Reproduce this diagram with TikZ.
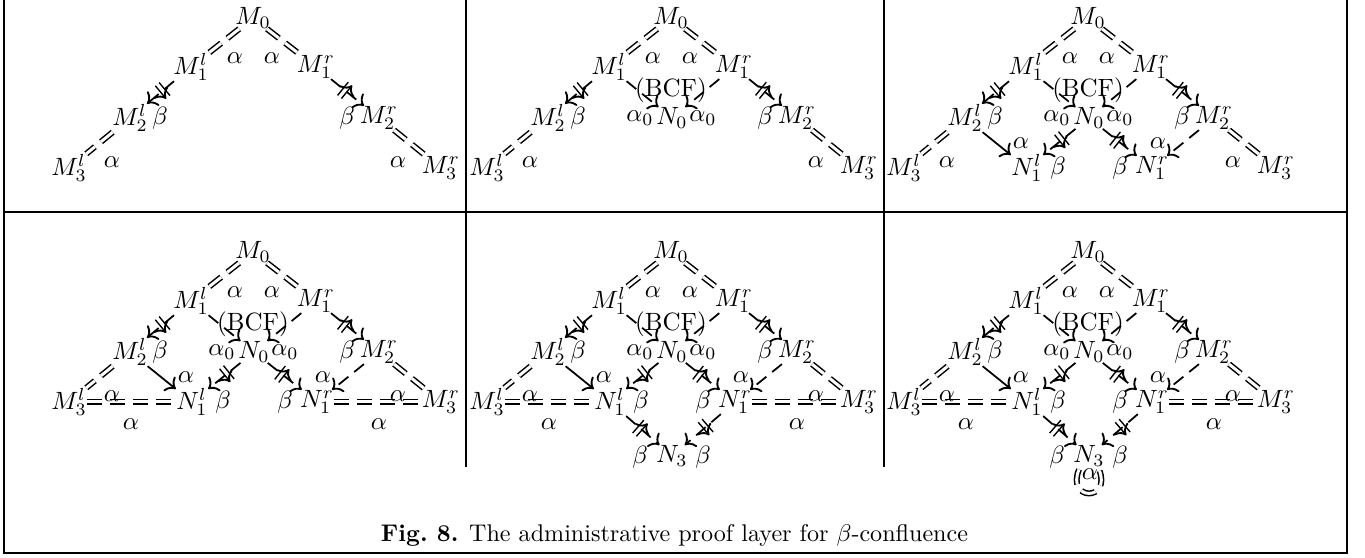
\documentclass[tikz,border=0pt]{standalone}
\usepackage{graphicx}
\usetikzlibrary{arrows.meta,decorations.markings}
\tikzset{
  obj/.style={inner sep=0pt},
  lbl/.style={inner sep=0pt},
  framerule/.style={line width=1.05pt, line join=miter},
  tablerule/.style={line width=0.9pt},
  dbl/.style={draw, line width=0.6pt, double, double distance=1.2pt,
              dash pattern=on 6pt off 3.2pt},
  tipx/.style={-{Computer Modern Rightarrow[length=3.6pt,width=7.4pt,line width=0.75pt]}},
  dar/.style={draw, line width=0.7pt, dash pattern=on 5pt off 3pt, tipx},
  sar/.style={draw, line width=0.7pt, tipx},
  bars/.style={postaction={decorate,decoration={markings,
      mark=at position 0.42 with {\draw[solid,line width=0.55pt]
        (-1pt,-3.4pt)--(-1pt,3.4pt) (1pt,-3.4pt)--(1pt,3.4pt);}}}}
}
\begin{document}
\begin{tikzpicture}[x=0.4pt,y=-0.4pt,
  every node/.append style={font=\fontsize{10}{12}\selectfont}]
\useasboundingbox (0,0) rectangle (1365,558);
% frame and table rules
\coordinate (FTL) at (4,0);
\coordinate (FBL) at (4,553);
\coordinate (FBR) at (1347,553);
\coordinate (FTR) at (1347,0);
\draw[framerule] (FTL) -- (FBL) -- (FBR) -- (FTR);
\coordinate (HL) at (4,212);
\coordinate (HR) at (1347,212);
\draw[tablerule] (HL) -- (HR);
\coordinate (V1t) at (466,0);
\coordinate (V1b) at (466,467);
\coordinate (V2t) at (884,0);
\coordinate (V2b) at (884,467);
\draw[tablerule] (V1t) -- (V1b);
\draw[tablerule] (V2t) -- (V2b);
% caption
\node[inner sep=0pt, anchor=base] (cap) at (674.5,541)
  {\resizebox{234.8pt}{!}{\textbf{Fig.\ 8.} The administrative proof layer for $\beta$-confluence}};
% panels
\foreach \p/\x/\y/\lv in {a/253/18/1,b/671/18/2,c/1088/18/3,d/253/252/4,e/671/252/5,f/1088/252/6}{
  \node[obj] (\p M0)  at (\x,\y) {$M_0$};
  \node[obj] (\p M1l) at ({\x-62},{\y+49}) {$M^l_1$};
  \node[obj] (\p M1r) at ({\x+63},{\y+49}) {$M^r_1$};
  \node[obj] (\p M2l) at ({\x-123},{\y+100}) {$M^l_2$};
  \node[obj] (\p M2r) at ({\x+126},{\y+100}) {$M^r_2$};
  \node[obj] (\p M3l) at ({\x-184},{\y+150}) {$M^l_3$};
  \node[obj] (\p M3r) at ({\x+188},{\y+150}) {$M^r_3$};
  \path[dbl] (\p M0) -- (\p M1l);
  \path[dbl] (\p M0) -- (\p M1r);
  \path[dar,bars] (\p M1l) -- (\p M2l);
  \path[dar,bars] (\p M1r) -- (\p M2r);
  \path[dbl] (\p M2l) -- (\p M3l);
  \path[dbl] (\p M2r) -- (\p M3r);
  \ifnum\lv>1
    \node[obj] (\p N0) at ({\x+1},{\y+100}) {$N_0$};
    \path[dar] (\p M1l) -- (\p N0);
    \path[dar] (\p M1r) -- (\p N0);
  \fi
  \ifnum\lv>2
    \node[obj] (\p N1l) at ({\x-61},{\y+150}) {$N^l_1$};
    \node[obj] (\p N1r) at ({\x+64},{\y+150}) {$N^r_1$};
    \path[sar] (\p M2l) -- (\p N1l);
    \path[dar] (\p M2r) -- (\p N1r);
    \path[dar,bars] (\p N0) -- (\p N1l);
    \path[dar,bars] (\p N0) -- (\p N1r);
  \fi
  \ifnum\lv>3
    \path[dbl] (\p M3l) -- (\p N1l);
    \path[dbl] (\p N1r) -- (\p M3r);
  \fi
  \ifnum\lv>4
    \node[obj] (\p N3) at ({\x+1},{\y+204}) {$N_3$};
    \path[dar,bars] (\p N1l) -- (\p N3);
    \path[dar,bars] (\p N1r) -- (\p N3);
  \fi
  \ifnum\lv>5
    \path[dbl] ([xshift=-4pt,yshift=-1pt]\p N3.south) .. controls +(-13,32) and +(13,32) .. ([xshift=4pt,yshift=-1pt]\p N3.south);
  \fi
  % labels
  \node[lbl] (\p a1) at ({\x-18},{\y+40}) {$\alpha$};
  \node[lbl] (\p a2) at ({\x+19},{\y+40}) {$\alpha$};
  \node[lbl] (\p b1) at ({\x-93},{\y+100}) {$\beta$};
  \node[lbl] (\p b2) at ({\x+94},{\y+100}) {$\beta$};
  \node[lbl] (\p a3) at ({\x-141},{\y+144}) {$\alpha$};
  \node[lbl] (\p a4) at ({\x+145},{\y+144}) {$\alpha$};
  \ifnum\lv>1
    \node[lbl] (\p bcf) at (\x,{\y+72}) {(BCF)};
    \node[lbl] (\p z1) at ({\x-31},{\y+100}) {$\alpha_0$};
    \node[lbl] (\p z2) at ({\x+32},{\y+100}) {$\alpha_0$};
  \fi
  \ifnum\lv>2
    \node[lbl] (\p a5) at ({\x-67},{\y+125}) {$\alpha$};
    \node[lbl] (\p a6) at ({\x+70},{\y+125}) {$\alpha$};
    \node[lbl] (\p b3) at ({\x-30},{\y+150}) {$\beta$};
    \node[lbl] (\p b4) at ({\x+32},{\y+150}) {$\beta$};
  \fi
  \ifnum\lv>3
    \node[lbl] (\p a7) at ({\x-122},{\y+172}) {$\alpha$};
    \node[lbl] (\p a8) at ({\x+126},{\y+172}) {$\alpha$};
  \fi
  \ifnum\lv>4
    \node[lbl] (\p b5) at ({\x-31},{\y+205}) {$\beta$};
    \node[lbl] (\p b6) at ({\x+32},{\y+205}) {$\beta$};
  \fi
  \ifnum\lv>5
    \node[lbl] (\p a9) at ({\x+2},{\y+222}) {$\alpha$};
  \fi
}
\end{tikzpicture}
\end{document}
